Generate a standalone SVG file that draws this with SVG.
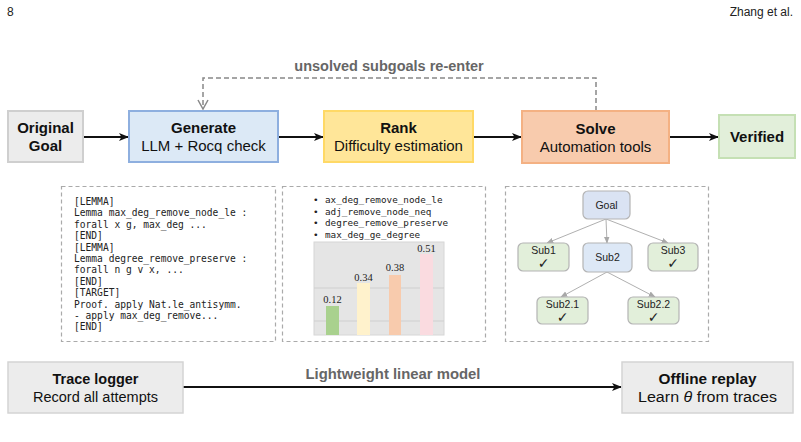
<svg xmlns="http://www.w3.org/2000/svg" width="801" height="442" viewBox="0 0 801 442">
<defs>
<marker id="ah" viewBox="0 0 10 10" refX="9" refY="5" markerWidth="5" markerHeight="5" orient="auto" markerUnits="strokeWidth">
<path d="M0,1 L10,5 L0,9 L2.5,5 Z" fill="#111"/>
</marker>
<marker id="ahg" viewBox="0 0 10 10" refX="9" refY="5" markerWidth="7" markerHeight="7" orient="auto" markerUnits="strokeWidth">
<path d="M0,1 L10,5 L0,9 Z" fill="#a8a8a8"/>
</marker>
<marker id="chev" viewBox="0 0 12 12" refX="11" refY="6" markerWidth="12" markerHeight="12" orient="auto" markerUnits="userSpaceOnUse">
<path d="M2,1 L11,6 L2,11" fill="none" stroke="#888" stroke-width="1.5"/>
</marker>
</defs>
<style>
.hdr{font-family:"Liberation Sans",Arial,sans-serif;font-size:12px;fill:#222}
.b{font-family:"Liberation Sans",Arial,sans-serif;font-size:15px;font-weight:bold;fill:#111;text-anchor:middle}
.r{font-family:"Liberation Sans",Arial,sans-serif;font-size:15px;fill:#111;text-anchor:middle}
.nb{font-family:"Liberation Sans",Arial,sans-serif;font-size:15.5px;font-weight:bold;fill:#111;text-anchor:middle}
.nr{font-family:"Liberation Sans",Arial,sans-serif;font-size:15.5px;fill:#111;text-anchor:middle}
.lbl{font-family:"Liberation Sans",Arial,sans-serif;font-size:14.5px;font-weight:bold;fill:#666;text-anchor:middle}
.lbln{font-family:"Liberation Sans",Arial,sans-serif;font-size:15.5px;font-weight:bold;fill:#666;text-anchor:middle}
.code{font-family:"DejaVu Sans Mono","Liberation Mono",monospace;font-size:9.6px;fill:#222}
.code2{font-family:"DejaVu Sans Mono","Liberation Mono",monospace;font-size:9.3px;fill:#222}
.val{font-family:"Liberation Serif","Times New Roman",serif;font-size:10.5px;fill:#222;text-anchor:middle}
.tn{font-family:"Liberation Sans",Arial,sans-serif;font-size:10.5px;fill:#222;text-anchor:middle}
.ck{font-family:"DejaVu Sans",sans-serif;font-size:14px;font-weight:bold;fill:#222;text-anchor:middle}
.panel{fill:none;stroke:#aaa;stroke-width:1.2;stroke-dasharray:4 3}
.edge{stroke:#111;stroke-width:2;fill:none;marker-end:url(#ah)}
.tedge{stroke:#b0b0b0;stroke-width:1;fill:none;marker-end:url(#ahg)}
.tbox{stroke:#b4b4b4;stroke-width:1.2}
</style>
<rect width="801" height="442" fill="#fff"/>
<g id="header">
<text class="hdr" x="7" y="16">8</text>
<text class="hdr" x="793" y="16" text-anchor="end">Zhang et al.</text>
</g>
<g id="connectors">
<line class="edge" x1="83" y1="137" x2="128" y2="137"/>
<line class="edge" x1="278" y1="137" x2="323" y2="137"/>
<line class="edge" x1="473" y1="137" x2="521" y2="137"/>
<line class="edge" x1="670" y1="137" x2="718" y2="137"/>
<path d="M596 111 V78 H203 V109" fill="none" stroke="#888" stroke-width="1.5" stroke-dasharray="5 3" marker-end="url(#chev)"/>
<text class="lbl" x="389" y="71">unsolved subgoals re-enter</text>
<line class="edge" x1="183" y1="387" x2="621" y2="387"/>
<text class="lbln" x="393" y="379" textLength="175" lengthAdjust="spacingAndGlyphs">Lightweight linear model</text>
</g>
<g id="original-goal">
<rect x="8" y="111" width="75" height="51" fill="#ececec" stroke="#cfcfcf" stroke-width="2"/>
<text class="b" x="45.5" y="133">Original</text>
<text class="b" x="45.5" y="151">Goal</text>
</g>
<g id="generate">
<rect x="129" y="111" width="149" height="51" fill="#dce9f6" stroke="#8eafdf" stroke-width="2"/>
<text class="b" x="203.5" y="133">Generate</text>
<text class="r" x="203.5" y="151">LLM + Rocq check</text>
</g>
<g id="rank">
<rect x="324" y="111" width="149" height="51" fill="#ffe699" stroke="#ffd966" stroke-width="2"/>
<text class="b" x="398.5" y="133">Rank</text>
<text class="r" x="398.5" y="151">Difficulty estimation</text>
</g>
<g id="solve">
<rect x="522" y="111" width="147" height="52" fill="#f8cbad" stroke="#f4b183" stroke-width="2"/>
<text class="b" x="595.5" y="134">Solve</text>
<text class="r" x="595.5" y="152">Automation tools</text>
</g>
<g id="verified">
<rect x="719" y="115" width="76" height="43" fill="#e2efda" stroke="#c5e0b4" stroke-width="2"/>
<text class="b" x="757" y="142">Verified</text>
</g>
<g id="panel-generate">
<rect class="panel" x="61.5" y="186.5" width="214" height="155"/>
<text class="code" x="74" y="205">[LEMMA]</text>
<text class="code" x="74" y="216.4">Lemma max_deg_remove_node_le :</text>
<text class="code" x="74" y="227.8">forall x g, max_deg ...</text>
<text class="code" x="74" y="239.2">[END]</text>
<text class="code" x="74" y="250.6">[LEMMA]</text>
<text class="code" x="74" y="262">Lemma degree_remove_preserve :</text>
<text class="code" x="74" y="273.4">forall n g v x, ...</text>
<text class="code" x="74" y="284.8">[END]</text>
<text class="code" x="74" y="296.2">[TARGET]</text>
<text class="code" x="74" y="307.6">Proof. apply Nat.le_antisymm.</text>
<text class="code" x="74" y="319">- apply max_deg_remove...</text>
<text class="code" x="74" y="330.4">[END]</text>
</g>
<g id="panel-rank">
<rect class="panel" x="282.5" y="186.5" width="203" height="155"/>
<text class="code2" x="313" y="203">•</text><text class="code2" x="325" y="203">ax_deg_remove_node_le</text>
<text class="code2" x="313" y="214.5">•</text><text class="code2" x="325" y="214.5">adj_remove_node_neq</text>
<text class="code2" x="313" y="226">•</text><text class="code2" x="325" y="226">degree_remove_preserve</text>
<text class="code2" x="313" y="237.5">•</text><text class="code2" x="325" y="237.5">max_deg_ge_degree</text>
<rect x="314" y="242" width="130" height="93" fill="#e5e5e5" stroke="#d6d6d6" stroke-width="1"/>
<line x1="314" y1="288" x2="444" y2="288" stroke="#cfcfcf"/>
<line x1="314" y1="321" x2="444" y2="321" stroke="#cfcfcf"/>
<rect x="326" y="306" width="13" height="29" fill="#a9d18e"/>
<rect x="357" y="283" width="13" height="52" fill="#fff2cc"/>
<rect x="389" y="275" width="12" height="60" fill="#f8cbad"/>
<rect x="420" y="254" width="13" height="81" fill="#fadbe0"/>
<text class="val" x="332.5" y="303">0.12</text>
<text class="val" x="363.5" y="281">0.34</text>
<text class="val" x="395" y="271">0.38</text>
<text class="val" x="426.5" y="252">0.51</text>
</g>
<g id="panel-solve">
<rect class="panel" x="505.5" y="186.5" width="203" height="155"/>
<line class="tedge" x1="606" y1="219" x2="547" y2="243"/>
<line class="tedge" x1="606" y1="219" x2="607" y2="243"/>
<line class="tedge" x1="606" y1="219" x2="668" y2="243"/>
<line class="tedge" x1="607" y1="272" x2="561" y2="297"/>
<line class="tedge" x1="607" y1="272" x2="655" y2="297"/>
</g>
<g id="tree-goal">
<rect class="tbox" x="583" y="191" width="47" height="28" rx="5" fill="#dae3f3"/>
<text class="tn" x="606.5" y="209">Goal</text>
</g>
<g id="tree-sub1">
<rect class="tbox" x="518" y="243" width="51" height="28" rx="5" fill="#e2efda"/>
<text class="tn" x="543.5" y="254">Sub1</text>
<text class="ck" x="543.5" y="268">✓</text>
</g>
<g id="tree-sub2">
<rect class="tbox" x="583" y="243" width="49" height="29" rx="5" fill="#dde8f6"/>
<text class="tn" x="607.5" y="261">Sub2</text>
</g>
<g id="tree-sub3">
<rect class="tbox" x="648" y="243" width="50" height="28" rx="5" fill="#e2efda"/>
<text class="tn" x="673" y="254">Sub3</text>
<text class="ck" x="673" y="268">✓</text>
</g>
<g id="tree-sub21">
<rect class="tbox" x="537" y="297" width="51" height="27" rx="5" fill="#e2efda"/>
<text class="tn" x="562.5" y="308">Sub2.1</text>
<text class="ck" x="562.5" y="322">✓</text>
</g>
<g id="tree-sub22">
<rect class="tbox" x="628" y="297" width="51" height="27" rx="5" fill="#e2efda"/>
<text class="tn" x="653.5" y="308">Sub2.2</text>
<text class="ck" x="653.5" y="322">✓</text>
</g>
<g id="trace-logger">
<rect x="8" y="362" width="175" height="51" fill="#ececec" stroke="#d4d4d4" stroke-width="1.5"/>
<text class="nb" x="95.5" y="384" textLength="86" lengthAdjust="spacingAndGlyphs">Trace logger</text>
<text class="nr" x="95.5" y="402" textLength="125" lengthAdjust="spacingAndGlyphs">Record all attempts</text>
</g>
<g id="offline-replay">
<rect x="622" y="362" width="171" height="51" fill="#ececec" stroke="#d4d4d4" stroke-width="1.5"/>
<text class="nb" x="707.5" y="384" textLength="98" lengthAdjust="spacingAndGlyphs">Offline replay</text>
<text class="nr" x="707.5" y="402" textLength="139" lengthAdjust="spacingAndGlyphs">Learn <tspan font-style="italic">θ</tspan> from traces</text>
</g>
</svg>
